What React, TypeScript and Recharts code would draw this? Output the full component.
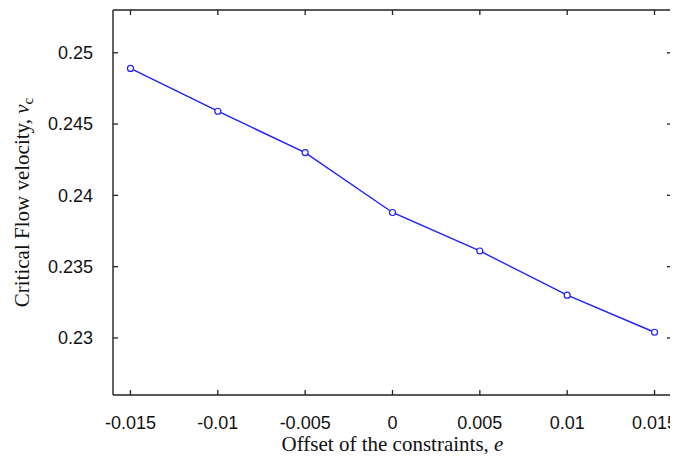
import React from "react";
import {
  LineChart,
  Line,
  XAxis,
  YAxis,
  Label,
} from "recharts";

// offset of the constraints e
const offsets = [-0.015, -0.01, -0.005, 0, 0.005, 0.01, 0.015];
// critical flow velocity v_c
const velocities = [0.2489, 0.2459, 0.243, 0.2388, 0.2361, 0.233, 0.2304];

const xTicks = [-0.015, -0.01, -0.005, 0, 0.005, 0.01, 0.015];
const yTicks = [0.23, 0.235, 0.24, 0.245, 0.25];

const data = offsets.map((e, i) => ({ e, v: velocities[i] }));

const AXIS_COLOR = "#222";
const LINE_COLOR = "#1f1fff";
const TICK_LEN = 5;
const TICK_FONT = "Liberation Sans, Arial, sans-serif";
const TITLE_FONT = "Liberation Serif, Times New Roman, serif";

const fmt = (v: number) => String(Number(v.toFixed(4)));

// inward tick + label, bottom axis (tickSize 0 so y - margin is the axis line)
const BottomTick = (props: any) => {
  const { x, y, payload, tickMargin } = props;
  const axisY = y - tickMargin;
  return (
    <g>
      <line x1={x} x2={x} y1={axisY} y2={axisY - TICK_LEN} stroke={AXIS_COLOR} strokeWidth={1.3} />
      <text x={x} y={y} dy="0.71em" textAnchor="middle" fontFamily={TICK_FONT} fontSize={18} fill="#111">
        {fmt(payload.value)}
      </text>
    </g>
  );
};

const LeftTick = (props: any) => {
  const { x, y, payload, tickMargin } = props;
  const axisX = x + tickMargin;
  return (
    <g>
      <line x1={axisX} x2={axisX + TICK_LEN} y1={y} y2={y} stroke={AXIS_COLOR} strokeWidth={1.3} />
      <text x={x} y={y} dy="0.355em" textAnchor="end" fontFamily={TICK_FONT} fontSize={18} fill="#111">
        {fmt(payload.value)}
      </text>
    </g>
  );
};

const TopTick = (props: any) => {
  const { x, y } = props;
  return <line x1={x} x2={x} y1={y} y2={y + TICK_LEN} stroke={AXIS_COLOR} strokeWidth={1.3} />;
};

const RightTick = (props: any) => {
  const { x, y } = props;
  return <line x1={x} x2={x - TICK_LEN} y1={y} y2={y} stroke={AXIS_COLOR} strokeWidth={1.3} />;
};

const XTitle = (props: any) => {
  const { viewBox } = props;
  return (
    <text
      x={viewBox.x + viewBox.width / 2}
      y={viewBox.y + 56}
      textAnchor="middle"
      fontFamily={TITLE_FONT}
      fontSize={21}
      fill="#111"
    >
      Offset of the constraints, <tspan fontStyle="italic">e</tspan>
    </text>
  );
};

const YTitle = (props: any) => {
  const { viewBox } = props;
  const cx = 21;
  const cy = viewBox.y + viewBox.height / 2;
  return (
    <text
      x={cx}
      y={cy}
      transform={`rotate(-90 ${cx} ${cy})`}
      textAnchor="middle"
      fontFamily={TITLE_FONT}
      fontSize={21}
      fill="#111"
    >
      Critical Flow velocity, <tspan fontStyle="italic">v</tspan>
      <tspan fontSize={15} dy={4}>c</tspan>
    </text>
  );
};

export default function App() {
  return (
    <div>
      <style>{`body { overflow: hidden; } .recharts-surface, .recharts-wrapper { overflow: visible; }`}</style>
      <LineChart
        width={684}
        height={460}
        data={data}
        margin={{ top: 1, right: 19, bottom: 0, left: 0 }}
      >
        <XAxis
          dataKey="e"
          type="number"
          domain={[-0.016, 0.016]}
          ticks={xTicks}
          allowDataOverflow
          height={73}
          tickSize={0}
          tickMargin={21}
          tickLine={false}
          stroke={AXIS_COLOR}
          strokeWidth={1.4}
          tick={<BottomTick tickMargin={21} />}
        >
          <Label content={XTitle} />
        </XAxis>
        <XAxis
          xAxisId="top"
          orientation="top"
          type="number"
          dataKey="e"
          domain={[-0.016, 0.016]}
          ticks={xTicks}
          allowDataOverflow
          height={1}
          tickSize={0}
          tickMargin={0}
          tickLine={false}
          stroke={AXIS_COLOR}
          strokeWidth={1.4}
          tick={<TopTick />}
        />
        <YAxis
          type="number"
          domain={[0.226, 0.253]}
          ticks={yTicks}
          allowDataOverflow
          width={105}
          tickSize={0}
          tickMargin={20}
          tickLine={false}
          stroke={AXIS_COLOR}
          strokeWidth={1.4}
          tick={<LeftTick tickMargin={20} />}
        >
          <Label content={YTitle} />
        </YAxis>
        <YAxis
          yAxisId="right"
          orientation="right"
          type="number"
          domain={[0.226, 0.253]}
          ticks={yTicks}
          allowDataOverflow
          width={1}
          tickSize={0}
          tickMargin={0}
          tickLine={false}
          stroke={AXIS_COLOR}
          strokeWidth={1.4}
          tick={<RightTick />}
        />
        <Line
          dataKey="v"
          stroke={LINE_COLOR}
          strokeWidth={1.4}
          isAnimationActive={false}
          dot={{ r: 3, stroke: LINE_COLOR, strokeWidth: 1.2, fill: "#fff" }}
          activeDot={false}
        />
      </LineChart>
    </div>
  );
}
